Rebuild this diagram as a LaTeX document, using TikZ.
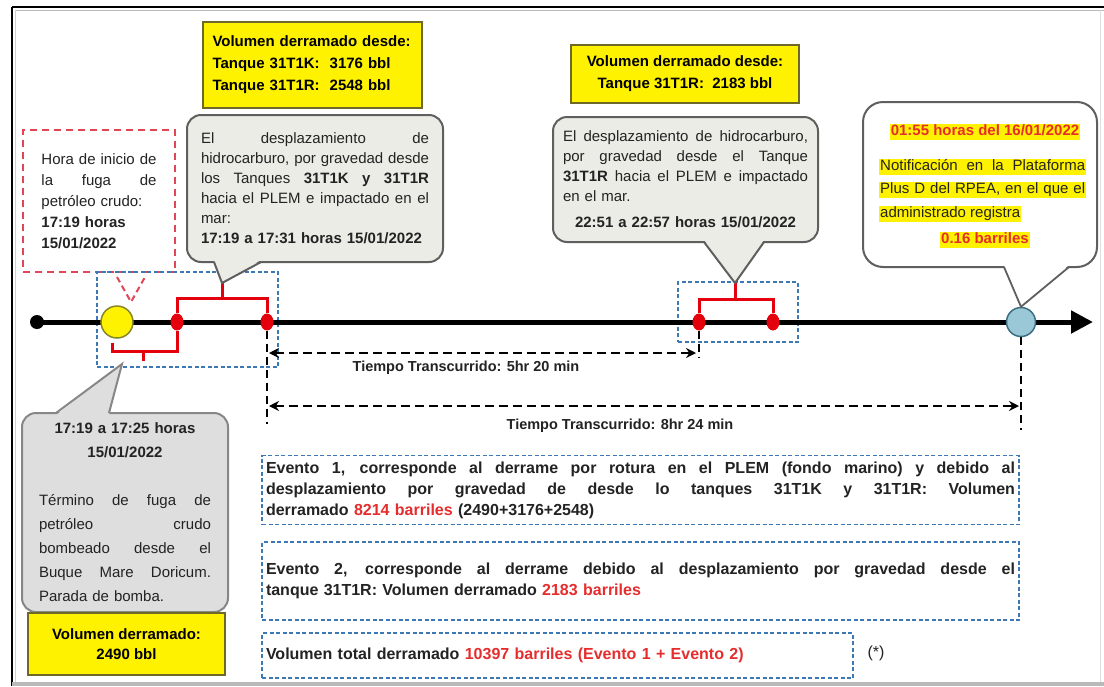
\documentclass[tikz,border=0pt]{standalone}
\usepackage{fontspec}
\setmainfont{Liberation Sans}
\usetikzlibrary{arrows.meta,calc,shapes.geometric}
\hbadness=10000 \hfuzz=5pt
\definecolor{cfill}{RGB}{236,236,230}
\definecolor{cline}{RGB}{95,95,95}
\definecolor{cfourfill}{RGB}{222,222,222}
\definecolor{cfourline}{RGB}{135,135,135}
\definecolor{yborder}{RGB}{110,105,40}
\definecolor{rdc}{RGB}{225,70,85}
\definecolor{bdc}{RGB}{60,120,180}
\definecolor{redtxt}{RGB}{230,45,45}
\definecolor{rdot}{RGB}{228,0,12}
\definecolor{lblue}{RGB}{155,200,215}
\definecolor{lblueline}{RGB}{60,110,130}
\definecolor{ycline}{RGB}{135,135,40}
\definecolor{txtc}{RGB}{35,35,35}
\newcommand{\jl}[2]{{\spaceskip=0pt\xspaceskip=0pt\makebox[#1][s]{#2}}}
\begin{document}
\begin{tikzpicture}[x=1pt,y=-1pt,
  callout/.style={draw=cline, fill=cfill, line width=2pt, rounded corners=14pt, inner sep=0pt,
    text=txtc, font=\fontsize{15}{20}\selectfont},
  ybox/.style={draw=yborder, fill=yellow, line width=1.8pt, inner sep=0pt,
    font=\bfseries\fontsize{15}{22}\selectfont},
  rdbox/.style={draw=rdc, line width=2pt, dash pattern=on 7pt off 5pt, inner sep=0pt,
    text=txtc, font=\fontsize{15}{21}\selectfont},
  bdbox/.style={draw=bdc, line width=1.6pt, dash pattern=on 4pt off 2.5pt, inner sep=0pt},
  evbox/.style={bdbox, text=txtc, font=\bfseries\fontsize{16}{21}\selectfont},
  tl/.style={line width=5pt},
  rbr/.style={draw=rdot, line width=3pt},
  vdash/.style={line width=2.5pt, dash pattern=on 8pt off 5pt},
  tarrow/.style={line width=2.5pt, dash pattern=on 9pt off 5pt,
    {Stealth[length=10pt,width=10pt]}-{Stealth[length=10pt,width=10pt]}},
  hl/.style={fill=yellow, inner sep=1pt, font=\fontsize{15}{18}\selectfont, text=txtc,
    text height=11pt, text depth=3.5pt},
  lbl/.style={font=\bfseries\fontsize{14.5}{17}\selectfont, text=txtc, inner sep=0pt},
  reddot/.style={ellipse, fill=rdot, minimum width=13pt, minimum height=17pt, inner sep=0pt}
]
\useasboundingbox (0,0) rectangle (1104,686);
\fill[white] (0,0) rectangle (1104,686);
% frame
\draw[line width=2pt] (12,7) -- (1104,7);
\draw[line width=2pt] (12,7) -- (12,686);
\draw[gray!55, line width=1.5pt] (15,10.5) -- (1104,10.5);
\draw[gray!35, line width=1pt] (15.5,10) -- (15.5,682);
\draw[gray!25, line width=1pt] (1100,10) -- (1100,682);
\fill[gray!55] (12,682) rectangle (1104,686);

% named coordinates
\coordinate (p0) at (37,322);
\coordinate (tend) at (1093,322);
\coordinate (b1m) at (222,298);
\coordinate (b1t) at (222,283);
\coordinate (lb1) at (112,343);
\coordinate (b2m) at (143,351);
\coordinate (b2t) at (143,361);
\coordinate (b3m) at (735,299);
\coordinate (b3t) at (735,283);
\coordinate (p4) at (122,364);
\coordinate (v1b) at (267,424);
\coordinate (v2b) at (699,358);
\coordinate (v3b) at (1021,430);
\coordinate (a1l) at (269,353);
\coordinate (a1r) at (696,353);
\coordinate (a2l) at (269,406);
\coordinate (a2r) at (1019,406);
\coordinate (vl) at (117,277);
\coordinate (vr) at (145,277);
\coordinate (vtip) at (131,302);

% yellow boxes
\node[ybox, minimum width=219pt, minimum height=86pt, text width=200pt, align=left] (yb1) at (312.5,65)
  {Volumen derramado desde:\\Tanque 31T1K:~ 3176 bbl\\Tanque 31T1R:~ 2548 bbl};
\node[ybox, minimum width=228pt, minimum height=58pt, align=center] (yb2) at (685,74)
  {Volumen derramado desde:\\Tanque 31T1R:~ 2183 bbl};

% red dashed box
\node[rdbox, minimum width=152pt, minimum height=142pt, text width=115pt, align=left] (rb) at (99,201)
  {\jl{115pt}{Hora de inicio de}\\\jl{115pt}{la fuga de}\\petróleo crudo:\\\textbf{17:19 horas}\\\textbf{15/01/2022}};
\draw[draw=rdc, line width=2pt, dash pattern=on 6pt off 4pt] (vl) -- (vtip) -- (vr);

% blue dashed boxes
\node[bdbox, minimum width=181pt, minimum height=95pt] (bb1) at (187.5,319.5) {};
\node[bdbox, minimum width=120pt, minimum height=60pt] (bb2) at (738,312) {};

% timeline
\draw[tl, -{Triangle[length=22pt,width=22pt]}] (p0) -- (tend);
\node[circle, fill=black, minimum size=14pt, inner sep=0pt] (d0) at (p0) {};
\node[circle, fill=yellow, draw=ycline, line width=1.5pt, minimum size=32pt, inner sep=0pt] (yc) at (117,322) {};
\node[reddot] (r1) at (177,322) {};
\node[reddot] (r2) at (267,322) {};
\node[reddot] (r3) at (699,322) {};
\node[reddot] (r4) at (773,322) {};
\node[circle, fill=lblue, draw=lblueline, line width=1.5pt, minimum size=29pt, inner sep=0pt] (bc) at (1021,322) {};

% red brackets
\draw[rbr] (r1.north) |- (b1m) -| (r2.north);
\draw[rbr] (b1m) -- (b1t);
\draw[rbr] (lb1) |- (b2m) -| (r1.south);
\draw[rbr] (b2m) -- (b2t);
\draw[rbr] (r3.north) |- (b3m) -| (r4.north);
\draw[rbr] (b3m) -- (b3t);

% vertical dashed lines and arrows
\draw[vdash] (r2.south) -- (v1b);
\draw[vdash] (r3.south) -- (v2b);
\draw[vdash] (bc.south) -- (v3b);
\draw[tarrow] (a1l) -- (a1r);
\draw[tarrow] (a2l) -- (a2r);
\node[lbl] (t1) at (466,368) {Tiempo Transcurrido: 5hr 20 min};
\node[lbl] (t2) at (620,426) {Tiempo Transcurrido: 8hr 24 min};

% callout 1
\node[callout, minimum width=256pt, minimum height=147pt, text width=228pt, align=left] (c1) at (315,188.5)
  {\jl{228pt}{El desplazamiento de}\\\jl{228pt}{hidrocarburo, por gravedad desde}\\\jl{228pt}{los Tanques \textbf{31T1K y 31T1R}}\\\jl{228pt}{hacia el PLEM e impactado en el}\\mar:\\\textbf{17:19 a 17:31 horas 15/01/2022}};
\fill[cfill] ($(c1.south west)+(28,-3)$) -- (b1t) -- ($(c1.south west)+(75,-3)$) -- cycle;
\draw[cline, line width=2pt] ($(c1.south west)+(28,-1)$) -- (b1t) -- ($(c1.south west)+(75,-1)$);

% callout 2
\node[callout, minimum width=265pt, minimum height=125pt, text width=245pt, align=center] (c2) at (685.5,179.5)
  {\jl{245pt}{El desplazamiento de hidrocarburo,}\\\jl{245pt}{por gravedad desde el Tanque}\\\jl{245pt}{\textbf{31T1R} hacia el PLEM e impactado}\\\makebox[245pt][l]{en el mar.}\\[6pt]\textbf{22:51 a 22:57 horas 15/01/2022}};
\fill[cfill] ($(c2.south west)+(152,-3)$) -- (b3t) -- ($(c2.south west)+(212,-3)$) -- cycle;
\draw[cline, line width=2pt] ($(c2.south west)+(152,-1)$) -- (b3t) -- ($(c2.south west)+(212,-1)$);

% callout 3
\node[callout, fill=white, rounded corners=20pt, minimum width=234pt, minimum height=165pt] (c3) at (980,184.5) {};
\fill[white] ($(c3.south west)+(142,-3)$) -- (bc.north) -- ($(c3.south west)+(207,-3)$) -- cycle;
\draw[cline, line width=1.8pt] ($(c3.south west)+(142,-1)$) -- (bc.north) -- ($(c3.south west)+(207,-1)$);
\node[hl, text=redtxt, font=\bfseries\fontsize{15}{18}\selectfont] (h1) at (985,132) {01:55 horas del 16/01/2022};
\node[hl, anchor=west] (h2) at (879,167) {\jl{205pt}{Notificación en la Plataforma}};
\node[hl, anchor=west] (h3) at (879,190) {\jl{205pt}{Plus D del RPEA, en el que el}};
\node[hl, anchor=west] (h4) at (879,214) {administrado registra};
\node[hl, text=redtxt, font=\bfseries\fontsize{15}{18}\selectfont] (h5) at (985,240) {0.16 barriles};

% callout 4
\node[callout, fill=cfourfill, draw=cfourline, minimum width=206pt, minimum height=199pt, text width=172pt, align=center,
  font=\fontsize{15}{24}\selectfont] (c4) at (125,512.5)
  {{\bfseries 17:19 a 17:25 horas\\15/01/2022}\\[24pt]\jl{172pt}{Término de fuga de}\\\jl{172pt}{petróleo crudo}\\\jl{172pt}{bombeado desde el}\\\jl{172pt}{Buque Mare Doricum.}\\\makebox[172pt][l]{Parada de bomba.}};
\fill[cfourfill] ($(c4.north west)+(35,3)$) -- (p4) -- ($(c4.north west)+(88,3)$) -- cycle;
\draw[cfourline, line width=2pt] ($(c4.north west)+(35,1)$) -- (p4) -- ($(c4.north west)+(88,1)$);
\node[ybox, minimum width=197pt, minimum height=62pt, align=center, font=\bfseries\fontsize{15}{20}\selectfont] (yb3) at (126.5,644)
  {Volumen derramado:\\2490 bbl};

% event boxes
\node[evbox, minimum width=757pt, minimum height=69pt, text width=749pt, align=left] (e1) at (640.5,490)
  {\jl{749pt}{Evento 1, corresponde al derrame por rotura en el PLEM (fondo marino) y debido al}\\\jl{749pt}{desplazamiento por gravedad de desde lo tanques 31T1K y 31T1R: Volumen}\\derramado \textcolor{redtxt}{8214 barriles} (2490+3176+2548)};
\node[evbox, minimum width=757pt, minimum height=78pt, text width=749pt, align=left] (e2) at (640.5,581)
  {\jl{749pt}{Evento 2, corresponde al derrame debido al desplazamiento por gravedad desde el}\\tanque 31T1R: Volumen derramado \textcolor{redtxt}{2183 barriles}};
\node[evbox, minimum width=591pt, minimum height=45pt, text width=583pt, align=left] (e3) at (557.5,655.5)
  {Volumen total derramado \textcolor{redtxt}{10397 barriles (Evento 1 + Evento 2)}};
\node[font=\fontsize{16}{18}\selectfont, text=txtc, inner sep=0pt] (ast) at (876,653) {(*)};
\end{tikzpicture}
\end{document}
